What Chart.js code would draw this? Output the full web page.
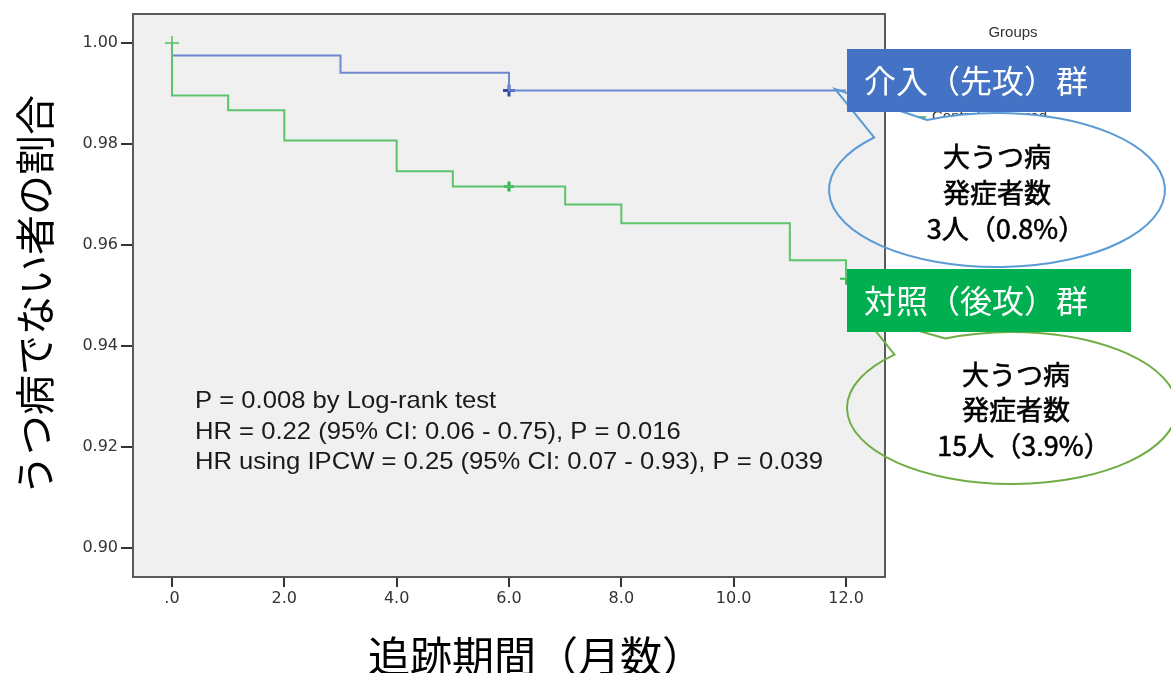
<!DOCTYPE html>
<html>
<head>
<meta charset="utf-8">
<script src="https://cdn.jsdelivr.net/npm/chart.js@4.4.1/dist/chart.umd.min.js"></script>
<style>
  html, body { margin: 0; padding: 0; background: #fff; overflow: hidden; }
  #wrap { width: 1171px; height: 673px; }
</style>
</head>
<body>
<div id="wrap"><canvas id="km" width="1171" height="673"></canvas></div>
<script>
// Kaplan-Meier steps: time in months, survival right after that time
const interventionTimes = [0, 0, 3, 6, 12];
const interventionSurv  = [1.0, 0.9975, 0.9941, 0.9906, 0.9906];
const controlTimes = [0, 0, 1, 2, 4, 5, 7, 8, 11, 12];
const controlSurv  = [1.0, 0.9896, 0.9867, 0.9807, 0.9746, 0.9716, 0.9680, 0.9643, 0.9570, 0.9533];

// censored cases (+ marks)
const interventionCensorTimes = [6];
const interventionCensorSurv  = [0.9906];
const controlCensorTimes = [0, 6, 12];
const controlCensorSurv  = [1.0, 0.9716, 0.9533];

const xTicks = [0, 2, 4, 6, 8, 10, 12];
const xTickLabels = [".0", "2.0", "4.0", "6.0", "8.0", "10.0", "12.0"];
const yTicks = [0.90, 0.92, 0.94, 0.96, 0.98, 1.00];
const yTickLabels = ["0.90", "0.92", "0.94", "0.96", "0.98", "1.00"];

const statLines = [
    "P = 0.008 by Log-rank test",
    "HR = 0.22 (95% CI: 0.06 - 0.75), P = 0.016",
    "HR using IPCW = 0.25 (95% CI: 0.07 - 0.93), P = 0.039",
];
const xTitle = "追跡期間（月数）";
const yTitle = "うつ病でない者の割合";

const GREEN_LINE = "#5DC46E";
const BLUE_LINE  = "#6F88D0";

const toPoints = (xs, ys) => xs.map((x, i) => ({ x: x, y: ys[i] }));

// speech-bubble callouts on the right
const callouts = [
    {
        label: "介入（先攻）群", box: [847, 49, 284, 63], boxColor: "#4472C4",
        cx: 997, cy: 190, rx: 168, ry: 77, tip: [835, 89],
        a0: -137, a1: -114.6, stroke: "#5B9BD5",
        lines: ["大うつ病", "発症者数", "3人（0.8%）"], textX: 997, textY: [157, 193, 229],
    },
    {
        label: "対照（後攻）群", box: [847, 269, 284, 63], boxColor: "#00B050",
        cx: 1012, cy: 408, rx: 165, ry: 76, tip: [863, 315],
        a0: -135.4, a1: -113.8, stroke: "#70AD47",
        lines: ["大うつ病", "発症者数", "15人（3.9%）"], textX: 1016, textY: [375, 410, 446],
    },
];

function calloutPath(ctx, c) {
    const r0 = c.a0 * Math.PI / 180, r1 = c.a1 * Math.PI / 180;
    ctx.beginPath();
    ctx.moveTo(c.cx + c.rx * Math.cos(r1), c.cy + c.ry * Math.sin(r1));
    ctx.lineTo(c.tip[0], c.tip[1]);
    ctx.lineTo(c.cx + c.rx * Math.cos(r0), c.cy + c.ry * Math.sin(r0));
    ctx.ellipse(c.cx, c.cy, c.rx, c.ry, 0, r0, r1, true);
    ctx.closePath();
}

// centre a line on its ink, so a trailing full-width paren doesn't pull it left
function fillInkCentered(ctx, text, x, y) {
    const m = ctx.measureText(text);
    const inkW = m.actualBoundingBoxLeft + m.actualBoundingBoxRight;
    const left = x - inkW / 2 + m.actualBoundingBoxLeft;
    ctx.textAlign = "left";
    ctx.fillText(text, left, y);
    ctx.strokeText(text, left, y);   // slightly heavier than regular
}

const decorations = {
    id: "decorations",
    beforeDraw(chart) {
        const { ctx, chartArea: a } = chart;
        ctx.save();
        ctx.fillStyle = "#fff";
        ctx.fillRect(0, 0, chart.width, chart.height);

        // SPSS legend, mostly hidden under the callouts
        ctx.fillStyle = "#333";
        ctx.font = '15px "Liberation Sans"';
        ctx.textAlign = "center";
        ctx.textBaseline = "middle";
        ctx.fillText("Groups", 1013, 33);
        ctx.textAlign = "left";
        ctx.fillText("Control-censored", 932, 117);
        ctx.strokeStyle = GREEN_LINE;
        ctx.lineWidth = 2;
        ctx.beginPath();
        ctx.moveTo(900, 117);
        ctx.lineTo(926, 117);
        ctx.stroke();

        callouts.forEach((c) => {
            calloutPath(ctx, c);
            ctx.fillStyle = "#fff";
            ctx.fill();
        });

        ctx.fillStyle = "#F0F0F0";
        ctx.fillRect(a.left, a.top, a.width, a.height);
        ctx.restore();
    },
    afterDraw(chart) {
        const { ctx, chartArea: a } = chart;
        ctx.save();
        ctx.strokeStyle = "#5a5a5a";
        ctx.lineWidth = 2;
        ctx.strokeRect(a.left, a.top, a.width, a.height);

        // stats block, stretched a little wider like the SPSS text
        ctx.fillStyle = "#1a1a1a";
        ctx.font = '24px "Liberation Sans"';
        ctx.textAlign = "left";
        ctx.textBaseline = "middle";
        const sx = 628 / ctx.measureText(statLines[2]).width;
        ctx.save();
        ctx.translate(195, 0);
        ctx.scale(sx, 1);
        [401, 432, 462].forEach((y, i) => ctx.fillText(statLines[i], 0, y));
        ctx.restore();

        // axis titles
        ctx.fillStyle = "#000";
        ctx.font = '42px "Noto Sans CJK JP"';
        ctx.textAlign = "center";
        ctx.fillText(xTitle, 536, 656);
        ctx.font = '40px "Noto Sans CJK JP"';
        ctx.save();
        ctx.translate(35, 295);
        ctx.rotate(-Math.PI / 2);
        ctx.fillText(yTitle, 0, 0);
        ctx.restore();

        callouts.forEach((c) => {
            calloutPath(ctx, c);
            ctx.strokeStyle = c.stroke;
            ctx.lineWidth = 2;
            ctx.stroke();

            ctx.fillStyle = c.boxColor;
            ctx.fillRect(c.box[0], c.box[1], c.box[2], c.box[3]);
            ctx.fillStyle = "#fff";
            ctx.font = '32px "Noto Sans CJK JP"';
            ctx.textAlign = "left";
            ctx.fillText(c.label, 864, c.box[1] + 32);

            ctx.fillStyle = "#000";
            ctx.strokeStyle = "#000";
            ctx.lineWidth = 0.6;
            ctx.font = '27px "Noto Sans CJK JP"';
            c.lines.forEach((t, i) => fillInkCentered(ctx, t, c.textX, c.textY[i]));
        });
        ctx.restore();
    },
};

const tickFont = { family: "DejaVu Sans", size: 16 };

new Chart(document.getElementById("km"), {
    type: "line",
    data: {
        datasets: [
            {
                data: toPoints(controlTimes, controlSurv),
                stepped: "before",
                borderColor: GREEN_LINE,
                borderWidth: 2,
                pointRadius: 0,
                fill: false,
            },
            {
                data: toPoints(interventionTimes, interventionSurv),
                stepped: "before",
                borderColor: BLUE_LINE,
                borderWidth: 2,
                pointRadius: 0,
                fill: false,
            },
            {
                data: toPoints(controlCensorTimes, controlCensorSurv),
                showLine: false,
                pointStyle: "cross",
                pointRadius: [7, 5, 6],
                pointBorderWidth: [1.5, 3, 2],
                pointBorderColor: ["#4CC05E", "#2BB24C", "#3DBA55"],
            },
            {
                data: toPoints(interventionCensorTimes, interventionCensorSurv),
                showLine: false,
                pointStyle: "cross",
                pointRadius: 6,
                pointBorderWidth: 3,
                pointBorderColor: "#3548A8",
            },
        ],
    },
    options: {
        responsive: false,
        animation: false,
        layout: { padding: { top: 14, right: 286, left: 0, bottom: 0 } },
        plugins: { legend: { display: false }, tooltip: { enabled: false } },
        scales: {
            x: {
                type: "linear",
                min: -0.694,
                max: 12.694,
                afterFit: (s) => { s.height = 96; },
                afterBuildTicks: (s) => { s.ticks = xTicks.map((v) => ({ value: v })); },
                ticks: {
                    callback: (v, i) => xTickLabels[i],
                    font: tickFont,
                    color: "#333",
                    padding: 2,
                    autoSkip: false,
                    maxRotation: 0,
                },
                grid: { drawOnChartArea: false, tickLength: 10, color: "#333", lineWidth: 2 },
                border: { color: "#5a5a5a", width: 2 },
            },
            y: {
                min: 0.89426,
                max: 1.00574,
                afterFit: (s) => { s.width = 133; },
                afterBuildTicks: (s) => { s.ticks = yTicks.map((v) => ({ value: v })); },
                ticks: {
                    callback: (v, i) => yTickLabels[i],
                    font: tickFont,
                    color: "#333",
                    padding: 3,
                    autoSkip: false,
                },
                grid: { drawOnChartArea: false, tickLength: 12, color: "#333", lineWidth: 2 },
                border: { color: "#5a5a5a", width: 2 },
            },
        },
    },
    plugins: [decorations],
});
</script>
</body>
</html>
